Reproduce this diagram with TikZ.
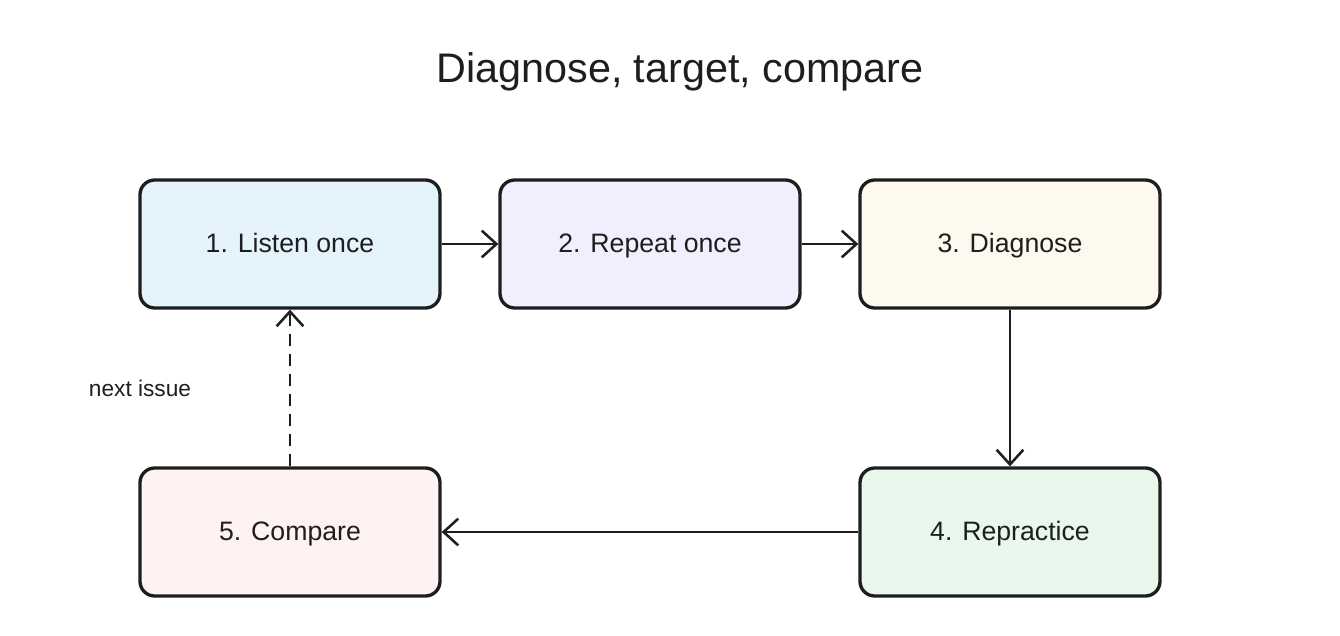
\documentclass[tikz,border=0pt]{standalone}
\usepackage{fontspec}
\setmainfont{Liberation Sans}
\usetikzlibrary{arrows.meta}
\definecolor{ink}{HTML}{1E1E1E}
\definecolor{fa}{HTML}{E5F3FD}
\definecolor{fb}{HTML}{F1EFFD}
\definecolor{fc}{HTML}{FEF9EF}
\definecolor{fd}{HTML}{E8F8EC}
\definecolor{fe}{HTML}{FEF3F2}
\tikzset{
  stepbox/.style={draw=ink, line width=2.5pt, rounded corners=11pt, minimum width=225pt, minimum height=96pt, inner sep=0pt, text height=16pt, text depth=4pt, font=\fontsize{20}{24}\selectfont, text=ink},
  conn/.style={draw=ink, line width=1.9pt, -{Straight Barb[length=11pt,width=20pt,line width=1.9pt]}},
}
\begin{document}
\begin{tikzpicture}[x=0.75pt,y=-0.75pt]
\useasboundingbox (0,0) rectangle (1340,636);
\node[font=\fontsize{31}{36}\selectfont, text=ink] (title) at (680,72) {Diagnose, target, compare};
\node[stepbox, fill=fa] (s1) at (290,244) {1. Listen once};
\node[stepbox, fill=fb] (s2) at (650,244) {2. Repeat once};
\node[stepbox, fill=fc] (s3) at (1010,244) {3. Diagnose};
\node[stepbox, fill=fd] (s4) at (1010,532) {4. Repractice};
\node[stepbox, fill=fe] (s5) at (290,532) {5. Compare};
\draw[conn] (s1) -- (s2);
\draw[conn] (s2) -- (s3);
\draw[conn] (s3) -- (s4);
\draw[conn] (s4) -- (s5);
\draw[conn, dash pattern=on 9pt off 6pt] (s5) -- (s1);
\node[font=\fontsize{17}{20}\selectfont, text=ink] (lbl) at (140,388) {next issue};
\end{tikzpicture}
\end{document}
